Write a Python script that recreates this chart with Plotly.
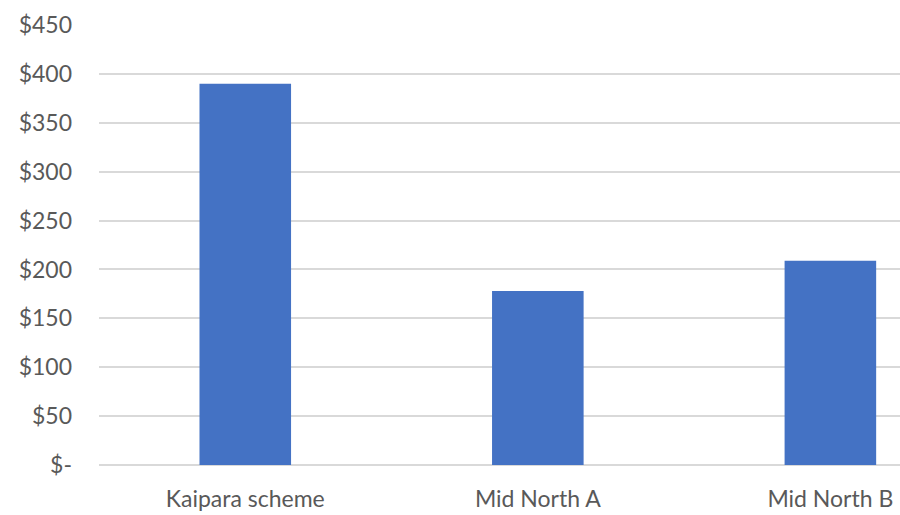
import plotly.graph_objects as go

categories = ["Kaipara scheme", "Mid North A", "Mid North B"]
values = [390, 178, 209]
tick_vals = [0, 50, 100, 150, 200, 250, 300, 350, 400, 450]
tick_text = ["$-", "$50", "$100", "$150", "$200", "$250", "$300", "$350", "$400", "$450"]

fig = go.Figure(go.Bar(
    x=list(range(len(categories))), y=values,
    marker=dict(color="#4472C4", line=dict(width=0)),
    width=0.313,
))

fig.update_layout(
    width=900, height=515,
    margin=dict(l=99, r=0, t=25, b=50),
    paper_bgcolor="white", plot_bgcolor="white",
    font=dict(family="Lato", size=23, color="#595959"),
    showlegend=False,
)
fig.update_xaxes(
    range=[-0.5, 2.238],
    tickvals=list(range(len(categories))), ticktext=categories,
    showgrid=False, zeroline=False, showline=False,
    ticks="", ticklabelstandoff=18,
)
fig.update_yaxes(
    range=[0, 450],
    tickvals=tick_vals, ticktext=tick_text,
    showgrid=True, gridcolor="#D9D9D9", gridwidth=2,
    zeroline=True, zerolinecolor="#D9D9D9", zerolinewidth=2,
    showline=False, ticks="", ticklabelstandoff=26,
)

fig.write_html("out.html")
